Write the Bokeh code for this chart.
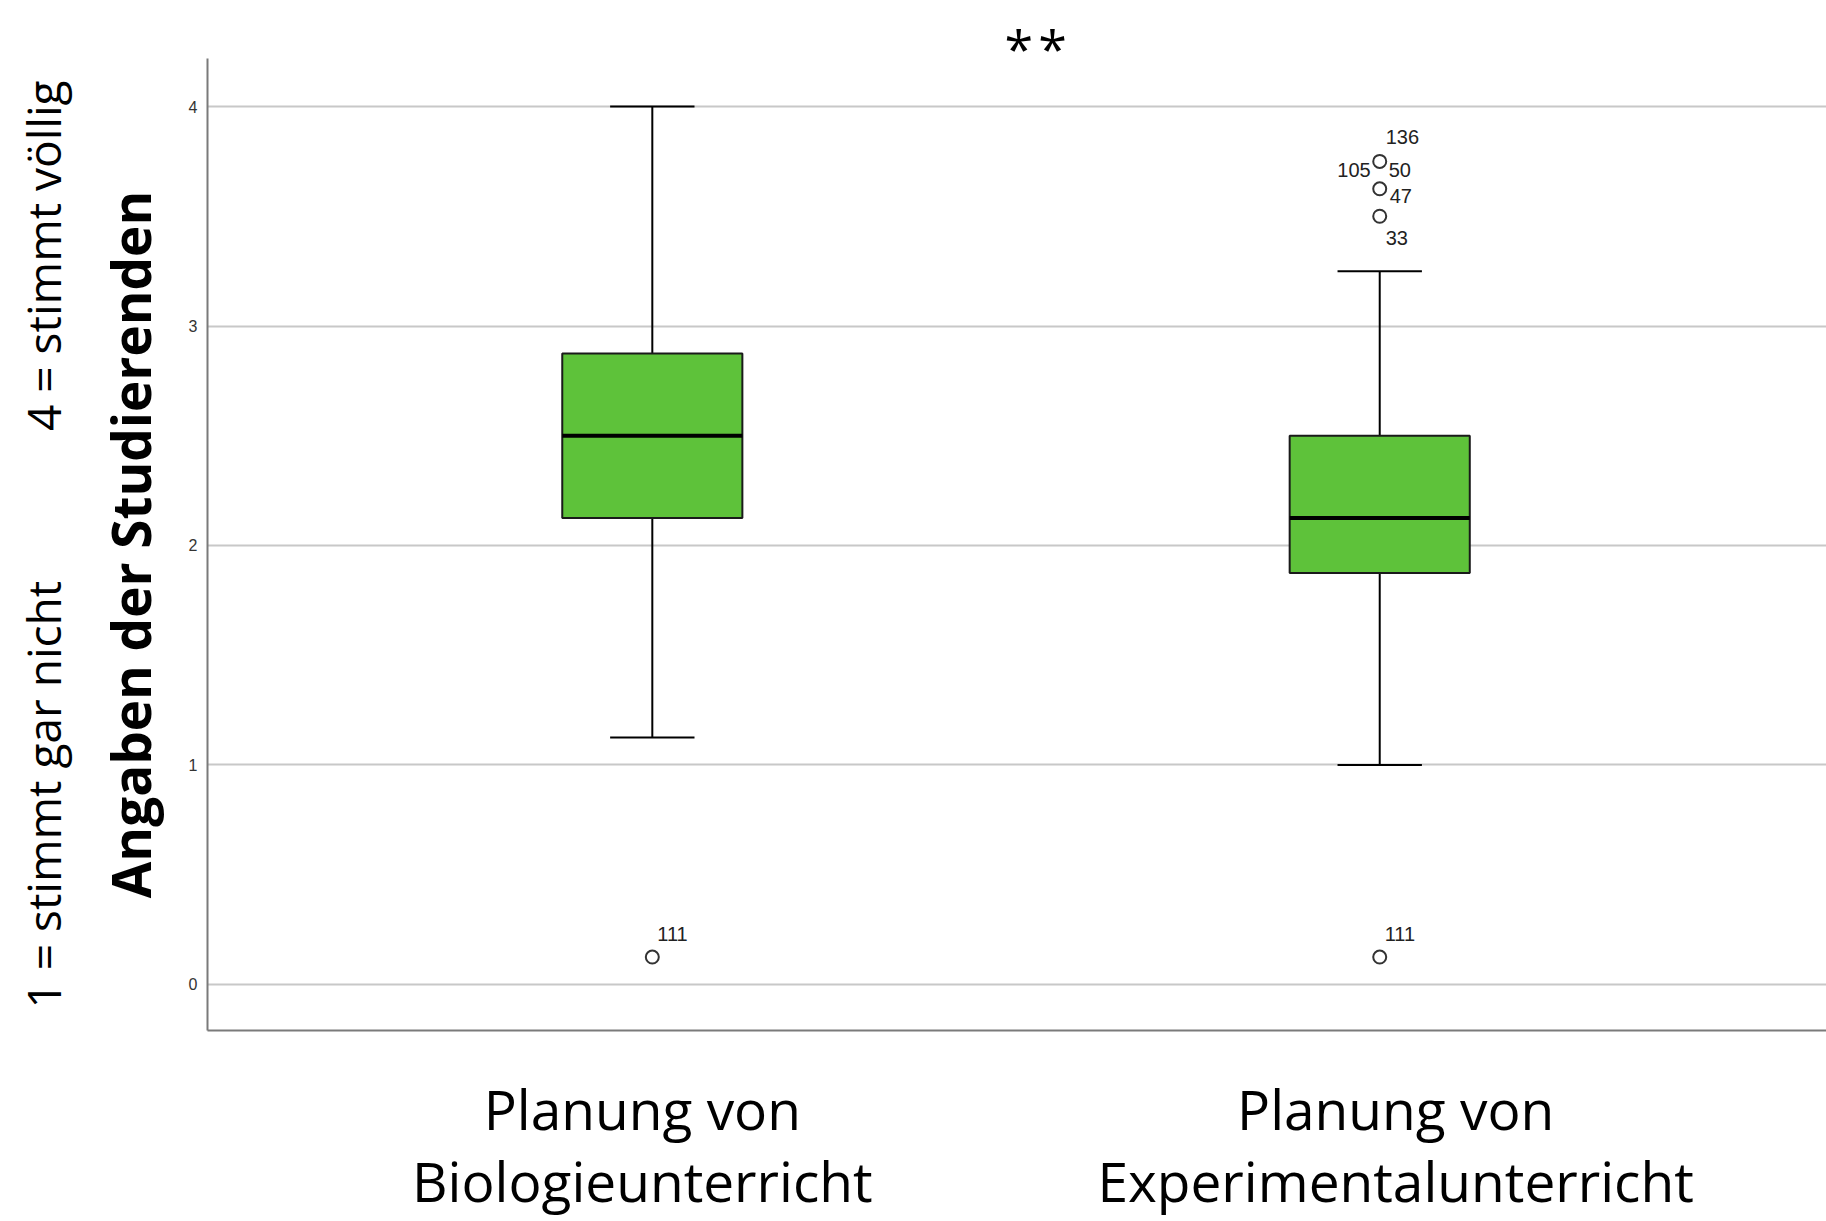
from bokeh.plotting import figure
from bokeh.models import Range1d, FixedTicker, LinearAxis, ColumnDataSource
from bokeh.core.properties import value
from bokeh.embed import file_html
from bokeh.resources import INLINE

# ---------------- data ----------------
categories = ["Planung von\nBiologieunterricht", "Planung von\nExperimentalunterricht"]
cat_pos = [1, 2]
whisker_low = [1.125, 1.0]
q1 = [2.125, 1.875]
median = [2.5, 2.125]
q3 = [2.875, 2.5]
whisker_high = [4.0, 3.25]

outlier_cat = [1, 2, 2, 2, 2]
outlier_val = [0.125, 3.75, 3.625, 3.5, 0.125]

label_cat = [1, 2, 2, 2, 2, 2, 2]
label_val = [0.125, 3.75, 3.75, 3.75, 3.625, 3.5, 0.125]
label_text = ["111", "136", "105", "50", "47", "33", "111"]

y_ticks = [0, 1, 2, 3, 4]
significance = "*\u200a*"
y_title = "Angaben der Studierenden"
scale_low = "1 = stimmt gar nicht"
scale_high = "4 = stimmt völlig"

# ---------------- styles / positions ----------------
label_offsets = {  # (x_offset, y_offset, align) per label index
    0: (5, -23, "left"),
    1: (6, -24, "left"),
    2: (-9, 9, "right"),
    3: (9, 9, "left"),
    4: (10, 7, "left"),
    5: (6, 22, "left"),
    6: (5, -23, "left"),
}
GREEN = "#5ec23a"
BOX_W = 0.2476
CAP_W = 0.116
PX = 1 / 731.0          # one screen pixel in x data units
cat_label_shift = [-10 * PX, 16 * PX]
sig_x = 1.527

p = figure(width=1826, height=1221,
           x_range=Range1d(0.3885, 2.6142), y_range=Range1d(-0.2096, 4.2187),
           output_backend="svg", toolbar_location=None,
           min_border_left=207, min_border_right=0, min_border_top=58, min_border_bottom=191)
p.outline_line_color = None
p.background_fill_color = "white"
p.border_fill_color = "white"

p.xgrid.visible = False
p.ygrid.ticker = FixedTicker(ticks=y_ticks)
p.ygrid.grid_line_color = "#c8c8c8"
p.ygrid.grid_line_width = 2

# y axis
p.yaxis.ticker = FixedTicker(ticks=y_ticks)
p.yaxis.axis_line_color = "#7a7a7a"
p.yaxis.axis_line_width = 2
p.yaxis.major_tick_line_color = None
p.yaxis.minor_tick_line_color = None
p.yaxis.major_tick_out = 0
p.yaxis.major_tick_in = 0
p.yaxis.major_label_standoff = 10
p.yaxis.major_label_text_font = "Liberation Sans"
p.yaxis.major_label_text_font_size = "16px"
p.yaxis.major_label_text_color = "#333333"
p.yaxis.axis_label = y_title
p.yaxis.axis_label_text_font = "Open Sans"
p.yaxis.axis_label_text_font_style = "bold"
p.yaxis.axis_label_text_font_size = "53px"
p.yaxis.axis_label_text_color = "black"
p.yaxis.axis_label_standoff = 19

gap = "\u2003" * 3 + "\u00a0"
ax2 = LinearAxis(ticker=FixedTicker(ticks=[]), axis_label=scale_low + gap + scale_high)
ax2.axis_line_color = None
ax2.major_tick_line_color = None
ax2.minor_tick_line_color = None
ax2.major_label_text_font_size = "0px"
ax2.axis_label_text_font = "Open Sans"
ax2.axis_label_text_font_style = "normal"
ax2.axis_label_text_font_size = "46px"
ax2.axis_label_text_color = "black"
ax2.axis_label_standoff = 17
p.add_layout(ax2, "left")

# x axis with category labels
x_ticks = [c + s for c, s in zip(cat_pos, cat_label_shift)]
p.xaxis.ticker = FixedTicker(ticks=x_ticks)
p.xaxis.major_label_overrides = {t: name for t, name in zip(x_ticks, categories)}
p.xaxis.axis_line_color = "#7a7a7a"
p.xaxis.axis_line_width = 2
p.xaxis.major_tick_line_color = None
p.xaxis.minor_tick_line_color = None
p.xaxis.major_tick_out = 0
p.xaxis.major_tick_in = 0
p.xaxis.major_label_standoff = 40
p.xaxis.major_label_text_font = "Open Sans"
p.xaxis.major_label_text_font_size = "55px"
p.xaxis.major_label_text_line_height = 0.97
p.xaxis.major_label_text_color = "black"

# significance marker on an axis above
ax_top = LinearAxis(ticker=FixedTicker(ticks=[sig_x]))
ax_top.major_label_overrides = {sig_x: significance}
ax_top.axis_line_color = None
ax_top.major_tick_line_color = None
ax_top.minor_tick_line_color = None
ax_top.major_tick_out = 0
ax_top.major_tick_in = 0
ax_top.major_label_standoff = -24
ax_top.major_label_text_font = "Open Sans"
ax_top.major_label_text_font_size = "52px"
ax_top.major_label_text_color = "black"
p.add_layout(ax_top, "above")

# boxes
src = ColumnDataSource(dict(x=cat_pos, lo=whisker_low, q1=q1, med=median, q3=q3, hi=whisker_high,
                            cl=[c - CAP_W / 2 for c in cat_pos], cr=[c + CAP_W / 2 for c in cat_pos],
                            bl=[c - BOX_W / 2 for c in cat_pos], br=[c + BOX_W / 2 for c in cat_pos]))
p.segment(x0="x", y0="hi", x1="x", y1="q3", source=src, line_color="black", line_width=2)
p.segment(x0="x", y0="lo", x1="x", y1="q1", source=src, line_color="black", line_width=2)
p.segment(x0="cl", y0="hi", x1="cr", y1="hi", source=src, line_color="black", line_width=2)
p.segment(x0="cl", y0="lo", x1="cr", y1="lo", source=src, line_color="black", line_width=2)
p.vbar(x="x", width=BOX_W, bottom="q1", top="q3", source=src,
       fill_color=GREEN, line_color="#1a1a1a", line_width=2)
p.segment(x0="bl", y0="med", x1="br", y1="med", source=src, line_color="black", line_width=4)

# outliers
p.scatter(x=outlier_cat, y=outlier_val, size=13, marker="circle",
          fill_color="white", line_color="#333333", line_width=2)

for i, (c, v, t) in enumerate(zip(label_cat, label_val, label_text)):
    xo, yo, al = label_offsets[i]
    p.text(x=[c], y=[v], text=[t], x_offset=xo, y_offset=yo,
           text_align=al, text_baseline="middle",
           text_font=value("Liberation Sans"), text_font_size="20px", text_color="#222222")

open("out.html", "w").write(file_html(p, INLINE))
